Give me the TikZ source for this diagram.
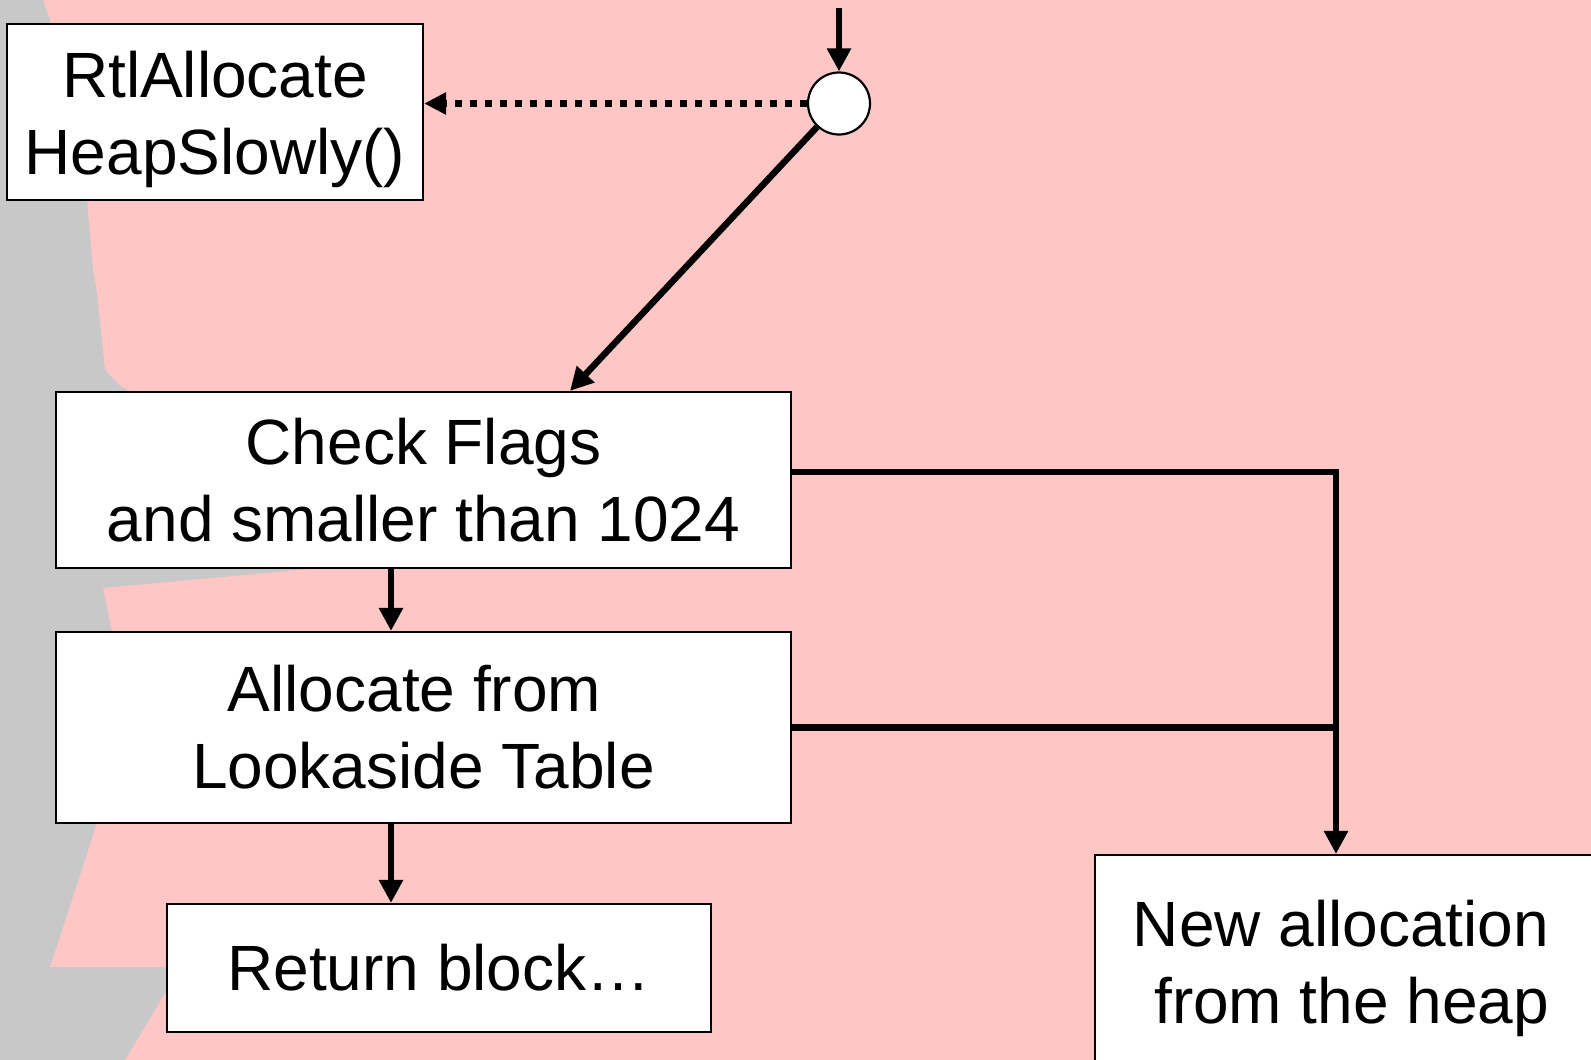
\documentclass[tikz,border=0pt]{standalone}
\usepackage{fontspec}
\setmainfont{Liberation Sans}
\usetikzlibrary{arrows.meta}

\definecolor{bgpink}{RGB}{255,198,198}
\definecolor{bggray}{RGB}{200,200,200}

\tikzset{
  box/.style={draw=black, line width=2.2pt, fill=white, inner sep=0pt,
              align=center, font=\fontsize{64pt}{77pt}\selectfont},
  boxtext/.style={align=center, inner sep=0pt, font=\fontsize{64pt}{77pt}\selectfont},
  flow/.style={line width=6.5pt, -{Triangle[length=23pt,width=23pt]}},
  branch/.style={line width=6.5pt},
  hint/.style={line width=7pt, dash pattern=on 7pt off 8pt,
               -{Triangle[length=22pt,width=21pt]}},
  junction/.style={circle, draw=black, line width=2.2pt, fill=white,
                   minimum size=62pt, inner sep=0pt}
}

\begin{document}
\begin{tikzpicture}[x=1pt,y=-1pt]
  \useasboundingbox (0,0) rectangle (1591,1060);

  % background
  \fill[bgpink] (0,0) rectangle (1591,1060);
  \fill[bggray] (0,0) -- (43,0) -- (50,20) -- (87,200) -- (93,270) -- (97,293)
    -- (105,370) -- (120,386) -- (135,394) -- (135,560) -- (320,560) -- (320,568)
    -- (103,588) -- (112,632) -- (112,640) -- (97,823) -- (50,967) -- (170,967)
    -- (170,985) -- (125,1060) -- (0,1060) -- cycle;

  % nodes
  \node[box, minimum width=416pt, minimum height=176pt,
        label={[boxtext, yshift=-7pt]center:{RtlAllocate\\HeapSlowly()}}]
        (slow) at (215,112) {};
  \node[junction] (hub) at (839,103.5) {};
  \coordinate (entry) at (839,8);
  \node[box, minimum width=735pt, minimum height=176pt] (check) at (423.5,480)
    {Check Flags\\and smaller than 1024};
  \node[box, minimum width=735pt, minimum height=191pt] (alloc) at (423.5,727.5)
    {Allocate from\hspace*{0.28em}\\Lookaside Table};
  \node[box, minimum width=544pt, minimum height=128pt] (ret) at (439,968)
    {Return block…};
  \node[box, minimum width=540pt, minimum height=218pt,
        label={[boxtext, align=right, xshift=-24pt, yshift=-4pt]center:{New allocation\\from the heap}}]
        (heap) at (1365,964) {};
  \coordinate (drop) at ([xshift=-29pt]heap.north);

  % connectors
  \draw[flow] (entry) -- (hub);
  \draw[hint] (hub) -- (slow.east |- hub);
  \draw[flow] (hub) -- ([xshift=146.5pt]check.north);
  \draw[flow] ([xshift=-32.5pt]check.south) -- ([xshift=-32.5pt]alloc.north);
  \draw[flow] ([xshift=-32.5pt]alloc.south) -- ([xshift=-32.5pt]alloc.south |- ret.north);
  \draw[flow] ([yshift=8pt]check.east) -| (drop);
  \draw[branch] (alloc.east) -- (alloc.east -| drop);
\end{tikzpicture}
\end{document}
